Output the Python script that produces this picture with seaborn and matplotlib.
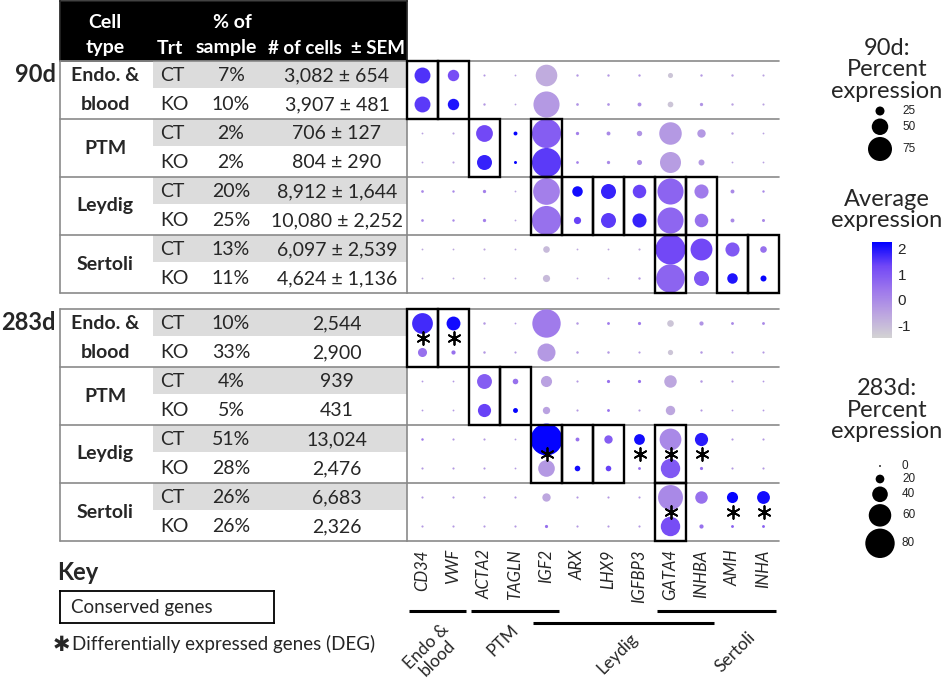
import numpy as np
import pandas as pd
import seaborn as sns
import matplotlib.pyplot as plt
from matplotlib.colors import LinearSegmentedColormap, Normalize
from matplotlib.patches import Rectangle
from matplotlib.cm import ScalarMappable

# ---- data -------------------------------------------------------------
genes = ["CD34", "VWF", "ACTA2", "TAGLN", "IGF2", "ARX", "LHX9", "IGFBP3",
         "GATA4", "INHBA", "AMH", "INHA"]
cell_types = ["Endo. &\nblood", "PTM", "Leydig", "Sertoli"]
treatments = ["CT", "KO"]

pct_sample_90 = ["7%", "10%", "2%", "2%", "20%", "25%", "13%", "11%"]
n_cells_90 = ["3,082 ± 654", "3,907 ± 481", "706 ± 127", "804 ± 290",
              "8,912 ± 1,644", "10,080 ± 2,252", "6,097 ± 2,539", "4,624 ± 1,136"]
pct_sample_283 = ["10%", "33%", "4%", "5%", "51%", "28%", "26%", "26%"]
n_cells_283 = ["2,544", "2,900", "939", "431", "13,024", "2,476", "6,683", "2,326"]

# percent of cells expressing (rows: Endo CT/KO, PTM CT/KO, Leydig CT/KO, Sertoli CT/KO)
pct_exp_90 = [
    [48, 33, 2, 1, 67, 3, 3, 3, 12, 3, 3, 2],
    [48, 33, 3, 1, 82, 4, 4, 8, 14, 6, 3, 2],
    [1, 2, 51, 8, 92, 6, 8, 13, 70, 23, 3, 1],
    [1, 2, 45, 5, 92, 4, 6, 12, 65, 15, 1, 1],
    [4, 3, 6, 1, 84, 30, 45, 40, 82, 42, 8, 3],
    [4, 3, 6, 1, 92, 19, 45, 42, 82, 40, 8, 5],
    [1, 1, 2, 1, 17, 1, 1, 2, 95, 68, 42, 17],
    [1, 1, 1, 1, 19, 1, 1, 3, 90, 45, 30, 15],
]
avg_exp_90 = [
    [1.6, 1.2, -0.3, -0.5, -0.7, -0.3, -0.3, -0.3, -1.2, -0.3, -0.5, -0.5],
    [1.5, 2.0, -0.3, -0.5, -0.3, -0.2, -0.2, -0.1, -1.2, -0.2, -0.5, -0.5],
    [-0.5, -0.5, 1.3, 2.2, 0.9, 0.2, 0.0, -0.2, -0.3, -0.3, -0.5, -0.5],
    [-0.5, -0.5, 1.8, 2.2, 1.5, 0.2, 0.0, -0.1, -0.4, -0.3, -0.5, -0.5],
    [0.0, 0.0, 0.2, -0.5, 0.2, 2.1, 1.8, 1.4, 0.75, 0.3, 0.0, 0.0],
    [0.0, 0.0, 0.2, -0.5, 0.5, 1.4, 1.5, 1.8, 0.7, 0.5, 0.0, 0.0],
    [-0.6, -0.6, -0.6, -0.6, -1.0, -0.6, -0.6, -0.6, 1.3, 1.3, 1.0, 0.5],
    [-0.6, -0.6, -0.6, -0.6, -1.0, -0.6, -0.6, -0.3, 0.75, 1.0, 2.0, 2.2],
]
pct_exp_283 = [
    [55, 35, 2, 0, 77, 2, 3, 4, 14, 7, 3, 3],
    [21, 7, 2, 1, 47, 2, 2, 1, 10, 2, 1, 1],
    [0, 0, 38, 11, 27, 1, 4, 4, 31, 2, 1, 0],
    [0, 0, 33, 9, 16, 1, 3, 1, 22, 1, 0, 0],
    [2, 1, 1, 0, 87, 6, 19, 26, 58, 33, 1, 1],
    [1, 1, 1, 0, 43, 11, 11, 3, 51, 4, 1, 1],
    [1, 1, 1, 1, 19, 1, 1, 1, 67, 31, 27, 32],
    [1, 1, 1, 1, 4, 1, 1, 1, 51, 7, 3, 3],
]
avg_exp_283 = [
    [1.7, 2.1, -0.3, -0.3, 0.3, -0.3, 0.3, 0.3, -1.2, -0.2, 0.0, 0.0],
    [0.5, 0.5, -0.3, -0.3, -0.3, -0.3, -0.3, -0.3, -1.2, -0.3, -0.3, -0.3],
    [-0.3, -0.3, 0.9, 0.5, -0.5, -0.3, 0.5, 0.5, -0.6, -0.3, -0.3, -0.3],
    [-0.3, -0.3, 1.4, 2.2, -0.5, -0.3, 0.5, -0.3, -0.6, -0.3, -0.3, -0.3],
    [0.3, -0.3, -0.3, -0.3, 2.2, 0.5, 0.9, 2.1, 0.0, 1.9, -0.3, -0.3],
    [-0.3, -0.3, -0.3, -0.3, -0.3, 2.1, 1.4, 0.5, 1.0, 0.5, -0.3, -0.3],
    [-0.3, -0.3, -0.3, -0.3, -0.6, -0.3, -0.3, -0.3, 0.0, 0.5, 2.2, 2.1],
    [-0.3, -0.3, -0.3, -0.3, 0.5, -0.3, -0.3, -0.3, 1.2, 0.5, 0.8, 0.8],
]

# conserved genes (boxed) and DEGs (asterisk) per cell type
conserved_90 = [["CD34", "VWF"], ["ACTA2", "IGF2"],
                ["IGF2", "ARX", "LHX9", "IGFBP3", "GATA4", "INHBA"],
                ["GATA4", "AMH", "INHA"]]
conserved_283 = [["CD34", "VWF"], ["ACTA2", "TAGLN"],
                 ["IGF2", "ARX", "LHX9", "GATA4"], ["GATA4"]]
deg_90 = [[], [], [], []]
deg_283 = [["CD34", "VWF"], [], ["IGF2", "IGFBP3", "GATA4", "INHBA"],
           ["GATA4", "AMH", "INHA"]]

gene_groups = [("Endo &\nblood", "CD34", "VWF", 0), ("PTM", "ACTA2", "IGF2", 0),
               ("Leydig", "IGF2", "INHBA", 1), ("Sertoli", "GATA4", "INHA", 0)]

legend_90 = [25, 50, 75]
legend_283 = [0, 20, 40, 60, 80]
cbar_ticks = [-1, 0, 1, 2]

# ---- style ------------------------------------------------------------
sns.set_theme(style="white")
plt.rcParams["font.family"] = ["Lato", "DejaVu Sans"]
plt.rcParams["axes.unicode_minus"] = False

cmap = LinearSegmentedColormap.from_list(
    "seurat", ["#D3D3D3", "#BCA5E0", "#9D77EC", "#7248F6", "#0000FF"])
norm = Normalize(vmin=-1.5, vmax=2.25)

W, H = 948, 684
GRID = "#8a8a8a"
BAND = "#dcdcdc"


def frame(x0, y0, x1, y1):
    return [x0 / W, 1 - y1 / H, (x1 - x0) / W, (y1 - y0) / H]


def diam_90(p):
    return 1.5 + 0.30 * p


def diam_283(p):
    return 1.8 + 0.345 * p


def area(d_px):
    return (d_px * 0.72) ** 2


fig = plt.figure(figsize=(9.48, 6.84), dpi=100)

TX0, TX1, DX1 = 60, 407, 779
TW = TX1 - TX0


def draw_block(top, label, pct_sample, n_cells, pct_exp, avg_exp, diam,
               conserved, degs, show_genes):
    bottom = top + 232
    ax_t = fig.add_axes(frame(TX0, top, TX1, bottom))
    ax_d = fig.add_axes(frame(TX1, top, DX1, bottom))
    nrow = len(pct_sample)

    # table
    ax_t.set_xlim(0, TW)
    ax_t.set_ylim(nrow - 0.5, -0.5)
    ax_t.set_axis_off()
    for r in range(nrow):
        if r % 2 == 0:
            ax_t.add_patch(Rectangle((93, r - 0.5), TW - 93, 0.93,
                                     color=BAND, lw=0, zorder=0))
        ax_t.text(100, r, treatments[r % 2], ha="left", va="center", fontsize=14)
        ax_t.text(171, r, pct_sample[r], ha="center", va="center", fontsize=14)
        ax_t.text(277, r, n_cells[r], ha="center", va="center", fontsize=14)
    for g, ct in enumerate(cell_types):
        parts = ct.split("\n")
        if len(parts) == 2:
            for k, part in enumerate(parts):
                ax_t.text(45, 2 * g + k, part, ha="center", va="center",
                          fontsize=14, fontweight="bold")
        else:
            ax_t.text(45, 2 * g + 0.5, ct, ha="center", va="center",
                      fontsize=14, fontweight="bold")
    for b in range(0, nrow + 1, 2):
        ax_t.axhline(b - 0.5, color=GRID, lw=1.2, clip_on=False)
        ax_d.axhline(b - 0.5, color=GRID, lw=1.2, clip_on=False, zorder=0)
    for x in (0, TW):
        ax_t.axvline(x, color=GRID, lw=1.2, clip_on=False)

    fig.text(56 / W, 1 - (top + 14) / H, label, ha="right", va="center",
             fontsize=17, fontweight="bold")

    # dots
    recs = []
    for r in range(nrow):
        for gi, gene in enumerate(genes):
            recs.append({"gx": gi, "row": r, "avg": avg_exp[r][gi],
                         "s": area(diam(pct_exp[r][gi]))})
    df = pd.DataFrame(recs)
    sns.scatterplot(data=df, x="gx", y="row", size="s", sizes=(0, 1000),
                    size_norm=(0, 1000), hue="avg", palette=cmap, hue_norm=norm,
                    linewidth=0, legend=False, ax=ax_d, zorder=3)
    ax_d.set_xlim(-0.5, len(genes) - 0.5)
    ax_d.set_ylim(nrow - 0.5, -0.5)
    ax_d.set_facecolor("none")
    for sp in ax_d.spines.values():
        sp.set_visible(False)
    ax_d.set_xlabel("")
    ax_d.set_ylabel("")
    ax_d.set_yticks([])

    for g, glist in enumerate(conserved):
        for gene in glist:
            gx = genes.index(gene)
            ax_d.add_patch(Rectangle((gx - 0.5, 2 * g - 0.5), 1, 2, fill=False,
                                     ec="black", lw=1.7, zorder=5, clip_on=False))
    for g, glist in enumerate(degs):
        for gene in glist:
            gx = genes.index(gene)
            ax_d.scatter([gx], [2 * g + 0.5], marker=(6, 2, 0), s=85,
                         color="black", linewidths=1.3, zorder=6)

    if show_genes:
        ax_d.set_xticks(range(len(genes)))
        ax_d.set_xticklabels(genes, rotation=90, fontsize=12, style="italic")
        ax_d.tick_params(axis="x", length=0, pad=6)
    else:
        ax_d.set_xticks([])
    return ax_t, ax_d


# header
ax_h = fig.add_axes(frame(TX0, 1, TX1, 61))
ax_h.set_xlim(0, TW)
ax_h.set_ylim(60, 0)
ax_h.set_facecolor("black")
ax_h.set_xticks([])
ax_h.set_yticks([])
hd = dict(color="white", fontweight="bold", fontsize=14, va="center", ha="center")
ax_h.text(45, 21, "Cell", **hd)
ax_h.text(45, 47, "type", **hd)
ax_h.text(110, 47, "Trt", **hd)
ax_h.text(172, 21, "% of", **hd)
ax_h.text(166, 47, "sample", **hd)
ax_h.text(277, 47, "# of cells  ± SEM", **dict(hd, fontsize=13.5))

draw_block(61, "90d", pct_sample_90, n_cells_90, pct_exp_90, avg_exp_90,
           diam_90, conserved_90, deg_90, False)
ax_t2, ax_d2 = draw_block(309, "283d", pct_sample_283, n_cells_283, pct_exp_283,
                          avg_exp_283, diam_283, conserved_283, deg_283, True)

# gene group brackets under the axis
trans = ax_d2.get_xaxis_transform()
label_pos = {"Endo &\nblood": (0.3, -0.48), "PTM": (2.6, -0.43),
             "Leydig": (6.3, -0.485), "Sertoli": (10.1, -0.48)}
for name, g0, g1, level in gene_groups:
    x0 = genes.index(g0) - 0.45
    x1 = genes.index(g1) + 0.4
    yv = -0.302 - 0.052 * level
    ax_d2.plot([x0, x1], [yv, yv], color="black", lw=2.2, transform=trans,
               clip_on=False, solid_capstyle="butt")
    lx, ly = label_pos[name]
    ax_d2.text(lx, ly, name, transform=trans, rotation=45, ha="center",
               va="center", fontsize=12.5, multialignment="center",
               linespacing=1.0)

# key
fig.text(57 / W, 1 - 573 / H, "Key", fontsize=17, fontweight="bold",
         ha="left", va="center")
ax_k = fig.add_axes(frame(60, 591, 274, 623))
ax_k.set_xticks([])
ax_k.set_yticks([])
for sp in ax_k.spines.values():
    sp.set_color("black")
    sp.set_linewidth(1.3)
ax_k.text(0.05, 0.5, "Conserved genes", transform=ax_k.transAxes, fontsize=13.5,
          va="center", ha="left")
fig.text(53 / W, 1 - 645 / H, "✱", family="DejaVu Sans", fontsize=15,
         ha="left", va="center")
fig.text(72 / W, 1 - 644 / H, "Differentially expressed genes (DEG)",
         fontsize=13.5, ha="left", va="center")

# right-hand legends
LX = 887
fig.text(LX / W, 1 - 70 / H, "90d:\nPercent\nexpression", ha="center",
         va="center", fontsize=17, linespacing=1.05)
fig.text(LX / W, 1 - 210 / H, "Average\nexpression", ha="center",
         va="center", fontsize=17, linespacing=1.05)
fig.text(LX / W, 1 - 410 / H, "283d:\nPercent\nexpression", ha="center",
         va="center", fontsize=17, linespacing=1.05)


def size_legend(values, diam, y0):
    ax = fig.add_axes(frame(840, y0 - 20, 948, y0 + 110))
    ax.set_xlim(840, 948)
    ax.set_ylim(y0 + 110, y0 - 20)
    ax.set_axis_off()
    keys = [max(diam(v) + 2, 13) for v in values]
    ys = [y0]
    for ka, kb in zip(keys[:-1], keys[1:]):
        ys.append(ys[-1] + (ka + kb) / 2)
    ax.scatter([880] * len(values), ys, s=[area(diam(v)) for v in values],
               color="black", linewidths=0)
    for v, yy in zip(values, ys):
        ax.text(902, yy, str(v), fontsize=8.5, family="Liberation Sans",
                va="center", ha="left", color="#222222")


size_legend(legend_90, diam_90, 111)
size_legend(legend_283, diam_283, 466)

cax = fig.add_axes(frame(872, 242, 892, 338))
cb = fig.colorbar(ScalarMappable(norm=norm, cmap=cmap), cax=cax)
cb.outline.set_visible(False)
cb.set_ticks(cbar_ticks)
cb.ax.tick_params(direction="in", color="white", length=4, width=1,
                  labelsize=11, pad=4)
for t in cb.ax.get_yticklabels():
    t.set_family("Liberation Sans")

fig.savefig("out.png", dpi=100)
